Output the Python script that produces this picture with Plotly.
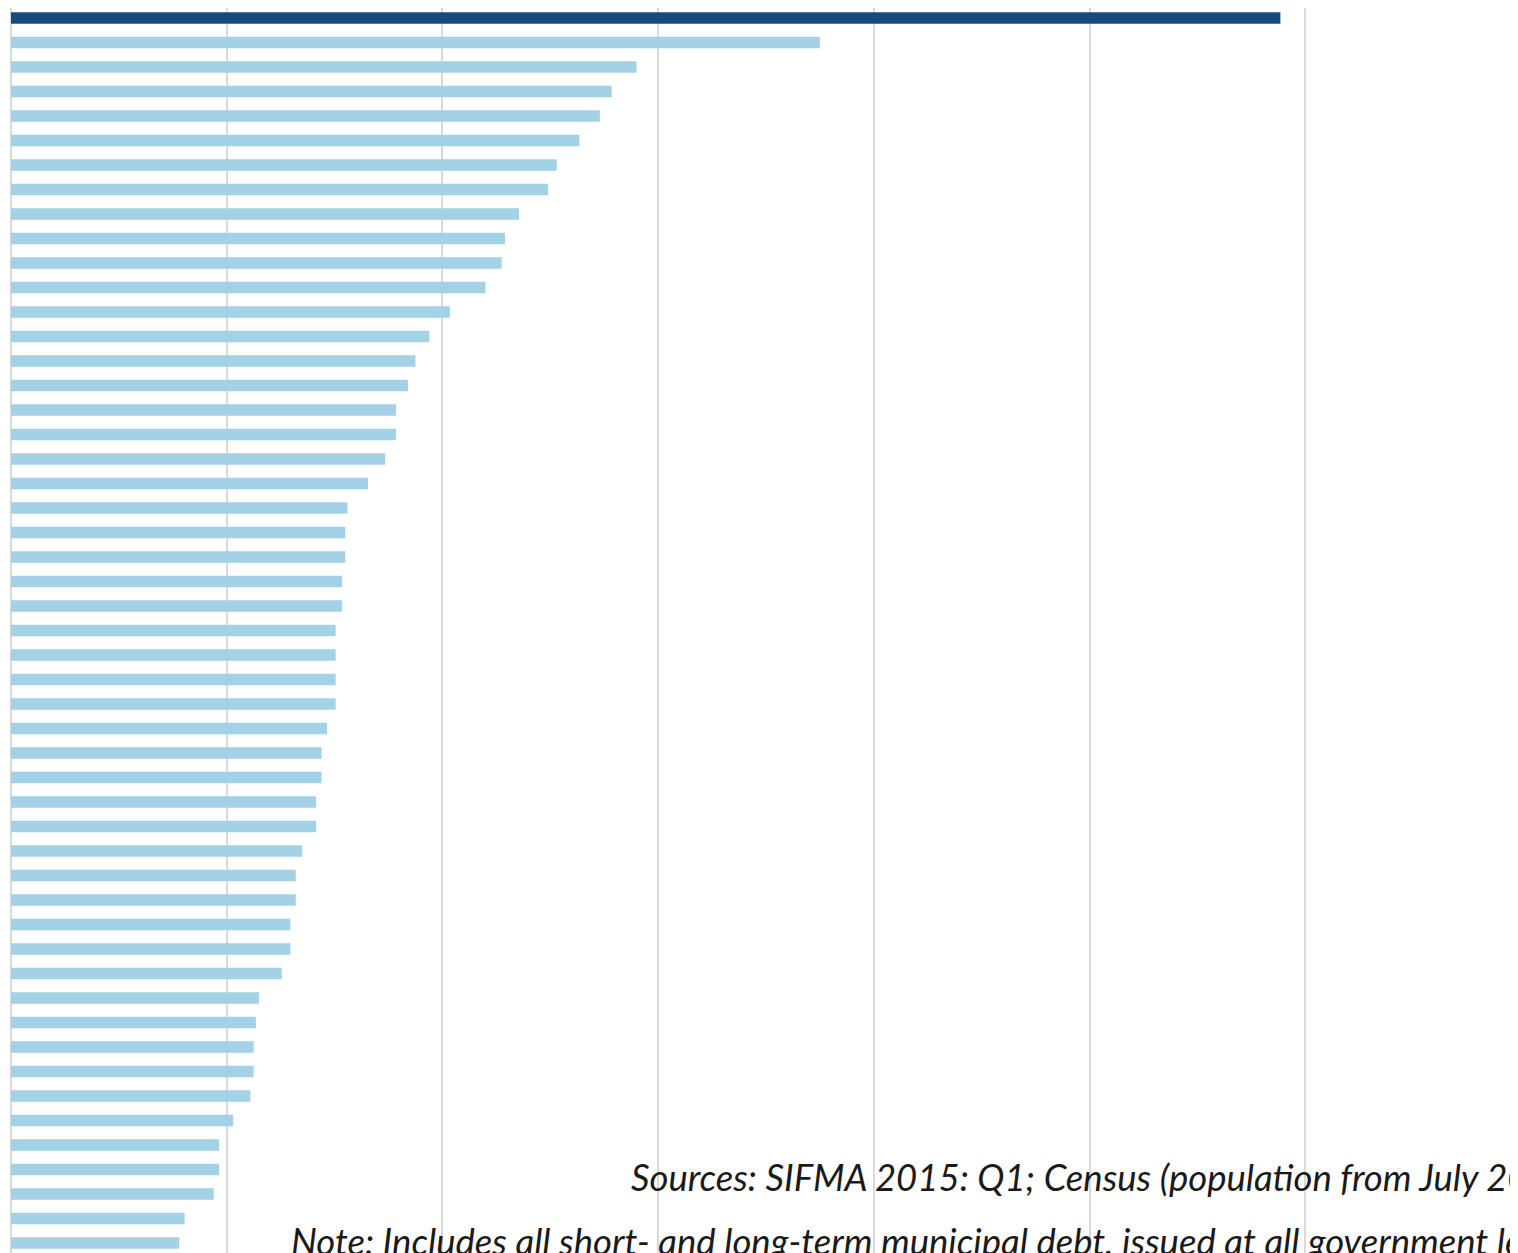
import plotly.graph_objects as go

# Rank-ordered jurisdictions (labels are cropped out of the reference)
categories = [f"Rank {i}" for i in range(1, 52)]

# Municipal debt per capita (USD)
values = [11770, 7500, 5800, 5570, 5460, 5270, 5060, 4980, 4710, 4580,
          4550, 4400, 4070, 3880, 3750, 3680, 3570, 3570, 3470, 3310,
          3120, 3100, 3100, 3070, 3070, 3010, 3010, 3010, 3010, 2930,
          2880, 2880, 2830, 2830, 2700, 2640, 2640, 2590, 2590, 2510,
          2300, 2270, 2250, 2250, 2220, 2060, 1930, 1930, 1880, 1610,
          1560]

colors = ["#174a7c"] + ["#a3d1e6"] * (len(values) - 1)
ypos = list(range(len(values)))

sources_text = "Sources: SIFMA 2015: Q1; Census (population from July 2014)"
note_text = "Note: Includes all short- and long-term municipal debt, issued at all government levels"

fig = go.Figure()
fig.add_trace(go.Bar(
    x=values, y=ypos, orientation="h",
    marker=dict(color=colors, line=dict(width=0)),
    width=0.46, hovertext=categories,
))

# page body has an 8px margin
OFF = 8
W, H = 1518, 1253
ml, mr, mt, mb = 3, 0, 0, 0
plot_w = W - ml - mr
plot_h = H - mt - mb
fig.update_layout(
    width=W, height=H,
    margin=dict(l=ml, r=mr, t=mt, b=mb, pad=0),
    paper_bgcolor="white", plot_bgcolor="white",
    showlegend=False,
    font=dict(family="Lato, sans-serif", color="#222222"),
    xaxis=dict(range=[0, plot_w / 215.7 * 2000], dtick=2000, tick0=0,
               showgrid=True, gridcolor="#d9d9d9", gridwidth=2,
               showticklabels=False, zeroline=True, zerolinecolor="#d9d9d9",
               zerolinewidth=2, showline=False, ticks=""),
    yaxis=dict(range=[50.735, -0.408], showticklabels=False, showgrid=False,
               zeroline=False, showline=False, ticks=""),
)


def px_to_paper(sx, sy):
    return (sx - OFF - ml) / plot_w, (H + OFF - sy) / plot_h


sx, sy = px_to_paper(629, 1177)
fig.add_annotation(text=f"<i>{sources_text}</i>", xref="paper", yref="paper",
                   x=sx, y=sy, xanchor="left", yanchor="middle", showarrow=False,
                   font=dict(size=36.5, family="Lato, sans-serif", color="#1a1a1a"))
nx, ny = px_to_paper(289, 1241)
fig.add_annotation(text=f"<i>{note_text}</i>", xref="paper", yref="paper",
                   x=nx, y=ny, xanchor="left", yanchor="middle", showarrow=False,
                   font=dict(size=36.5, family="Lato, sans-serif", color="#1a1a1a"))

fig.write_html("out.html")
